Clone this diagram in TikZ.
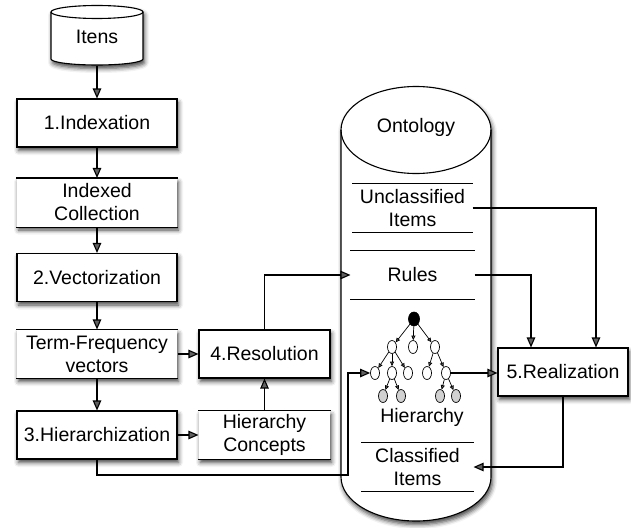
\documentclass[tikz,border=0pt]{standalone}
\usepackage{fontspec}
\setmainfont{Liberation Sans}
\usetikzlibrary{arrows.meta,shapes.geometric,shadows.blur}
\begin{document}
\begin{tikzpicture}[x=1pt,y=-1pt,
  font=\fontsize{19.5}{23}\selectfont,
  line width=1.1pt,
  sh/.style={blur shadow={shadow xshift=1.5pt,shadow yshift=-3.5pt,shadow blur radius=4.5pt,shadow opacity=75}},
  proc/.style={draw, fill=white, sh, minimum width=160pt, minimum height=48pt, inner sep=0pt, align=center},
  store/.style={fill=white, sh, minimum width=160pt, minimum height=48pt, inner sep=0pt, align=center},
  section/.style={minimum height=48pt, inner sep=0pt, align=center},
  flow/.style={-{Triangle[length=10pt,width=8.5pt]}},
  tn/.style={ellipse, draw, line width=0.7pt, fill=white, minimum width=9pt, minimum height=13pt, inner sep=0pt},
  leaf/.style={tn, fill=black!18},
  tedge/.style={line width=0.7pt, -{Triangle[length=4.5pt,width=4pt]}}
]
\useasboundingbox (0,0) rectangle (631,527);

% Itens cylinder
\path[fill=white, sh] (51,12) -- (51,59) arc[start angle=180,end angle=360,x radius=46pt,y radius=6pt]
  -- (143,12) arc[start angle=0,end angle=180,x radius=46pt,y radius=6.5pt] -- cycle;
\draw (51,12) -- (51,59) arc[start angle=180,end angle=360,x radius=46pt,y radius=6pt] -- (143,12);
\draw (97,12) ellipse [x radius=46pt, y radius=6.5pt];
\node[minimum width=92pt, minimum height=59pt, inner sep=0pt] (itens) at (97,35.5) {};
\node at (97,37) {Itens};

% Ontology cylinder
\path[fill=white, sh] (341,130) -- (341,477) arc[start angle=180,end angle=360,x radius=75pt,y radius=44pt]
  -- (491,130) arc[start angle=0,end angle=180,x radius=75pt,y radius=43.5pt] -- cycle;
\draw (341,130) -- (341,477) arc[start angle=180,end angle=360,x radius=75pt,y radius=44pt] -- (491,130);
\draw (416,130) ellipse [x radius=75pt, y radius=43.5pt];
\node (onto) at (416,127) {Ontology};

% left column
\node[proc] (idx) at (97,123) {1.Indexation};
\node[store] (icol) at (97,202.5) {Indexed\\Collection};
\draw (icol.north west) -- (icol.north east) (icol.south west) -- (icol.south east);
\node[proc] (vec) at (97,277.5) {2.Vectorization};
\node[store] (tf) at (97,354) {Term-Frequency\\vectors};
\draw (tf.north west) -- (tf.north east) (tf.south west) -- (tf.south east);
\node[proc] (hier) at (97,435) {3.Hierarchization};
\node[proc, minimum width=131pt] (res) at (264.5,354) {4.Resolution};
\node[store, minimum width=131pt] (hc) at (264.5,435) {Hierarchy\\Concepts};
\draw (hc.north west) -- (hc.north east) (hc.south west) -- (hc.south east);
\node[proc, minimum width=130pt] (real) at (563,372) {5.Realization};

% ontology sections
\node[section, minimum width=119pt] (unc) at (412.5,208) {Unclassified\\Items};
\draw (unc.north west) -- (unc.north east) (unc.south west) -- (unc.south east);
\node[section, minimum width=123pt] (rules) at (412.5,275) {Rules};
\draw (rules.north west) -- (rules.north east) (rules.south west) -- (rules.south east);
\node[section, minimum width=111pt] (cls) at (417.5,467) {Classified\\Items};
\draw (cls.north west) -- (cls.north east) (cls.south west) -- (cls.south east);
\node (hlabel) at (422,417) {Hierarchy};

% tree
\node[tn, fill=black, minimum width=11pt, minimum height=14pt] (root) at (414,319) {};
\node[tn] (l1a) at (392,347) {};
\node[tn] (l1b) at (413,347) {};
\node[tn] (l1c) at (435,347) {};
\node[tn] (l2a) at (375,373) {};
\node[tn] (l2b) at (392,373) {};
\node[tn] (l2c) at (408,373) {};
\node[tn] (l2d) at (427,373) {};
\node[tn] (l2e) at (446,373) {};
\node[leaf] (l3a) at (383,396) {};
\node[leaf] (l3b) at (401,396) {};
\node[leaf] (l3c) at (440,396) {};
\node[leaf] (l3d) at (456,396) {};
\foreach \a/\b in {root/l1a,root/l1b,root/l1c,l1a/l2a,l1a/l2b,l1a/l2c,l1c/l2d,l1c/l2e,l2b/l3a,l2b/l3b,l2e/l3c,l2e/l3d}
  \draw[tedge] (\a) -- (\b);

% connectors
\draw[flow] (itens.south) -- (idx.north);
\draw[flow] (idx) -- (icol);
\draw[flow] (icol) -- (vec);
\draw[flow] (vec) -- (tf);
\draw[flow] (tf) -- (hier);
\draw[flow] (tf) -- (res);
\draw[flow] (hier) -- (hc);
\draw[flow] (hc) -- (res);
\draw[flow] (res.north) |- (rules.west);
\draw[flow] (unc.east) -| ([xshift=33pt]real.north);
\draw[flow] (rules.east) -| ([xshift=-32pt]real.north);
\draw[flow] (l2e) -- (l2e -| real.west);
\draw[flow] (real.south) |- (cls.east);
\coordinate (bend) at (348,475);
\draw[flow] (hier.south) |- (bend) |- (l2a.west);
\end{tikzpicture}
\end{document}
